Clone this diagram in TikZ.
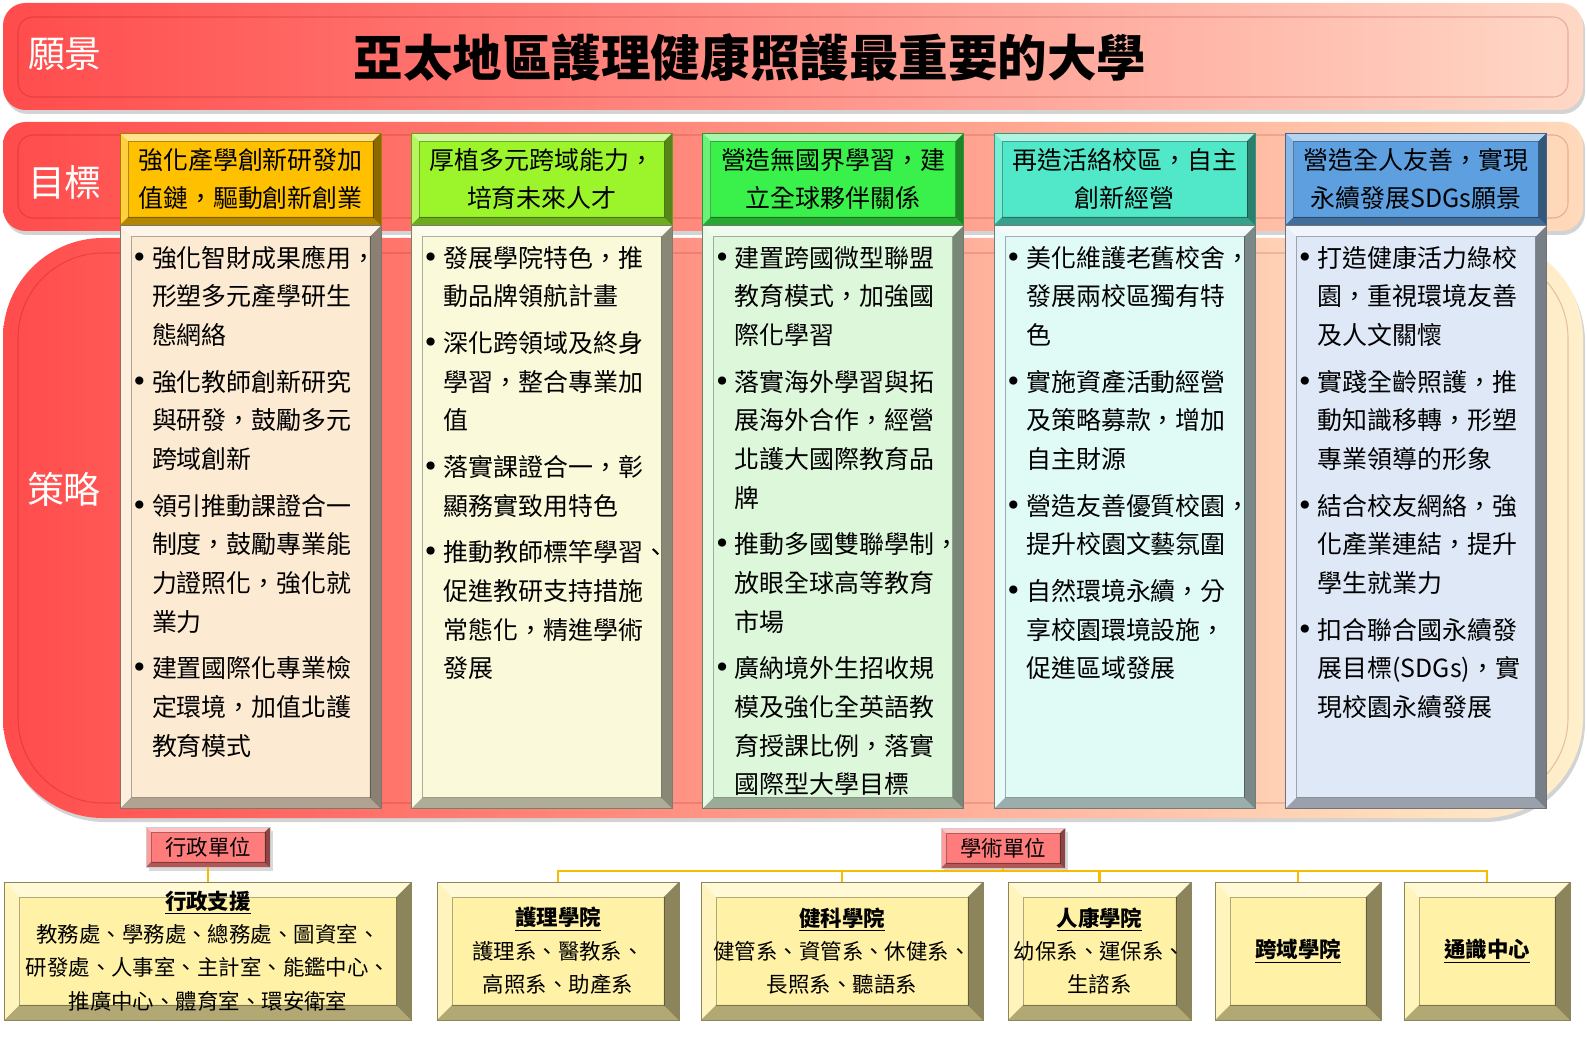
\documentclass[tikz,border=0pt]{standalone}
\usepackage{fontspec}
\setmainfont{Noto Sans CJK TC}
\newfontfamily\symfont{DejaVu Sans}
\usetikzlibrary{positioning,shadows}

\definecolor{barL}{HTML}{FF4C4C}
\definecolor{visR}{HTML}{FFD8C6}
\definecolor{goaR}{HTML}{FFDABB}
\definecolor{strR}{HTML}{FFF0CC}
\definecolor{goalA}{HTML}{FFC000}
\definecolor{goalB}{HTML}{9BF52A}
\definecolor{goalC}{HTML}{3AF04A}
\definecolor{goalD}{HTML}{50E8C8}
\definecolor{goalE}{HTML}{5E9FDF}
\definecolor{stratA}{HTML}{FDEAD2}
\definecolor{stratB}{HTML}{FAF9DA}
\definecolor{stratC}{HTML}{DDF7DB}
\definecolor{stratD}{HTML}{E0FAF6}
\definecolor{stratE}{HTML}{DEE8F7}
\definecolor{unit}{HTML}{FFF2A6}
\definecolor{lab}{HTML}{FF7C7C}
\definecolor{link}{HTML}{F7BB00}

\newcommand{\bigbul}{{\symfont\fontsize{16pt}{22pt}\selectfont •}}

\tikzset{Bevel/.style = {path picture={
  \path (path picture bounding box.north west) coordinate (bnw)
        (path picture bounding box.north east) coordinate (bne)
        (path picture bounding box.south west) coordinate (bsw)
        (path picture bounding box.south east) coordinate (bse);
  \fill[white,opacity=.55] (bnw) -- (bne) -- ([shift={(-#1,-#1)}]bne) -- ([shift={(#1,-#1)}]bnw) -- cycle;
  \fill[white,opacity=.25] (bnw) -- (bsw) -- ([shift={(#1,#1)}]bsw) -- ([shift={(#1,-#1)}]bnw) -- cycle;
  \fill[black,opacity=.45] (bne) -- (bse) -- ([shift={(-#1,#1)}]bse) -- ([shift={(-#1,-#1)}]bne) -- cycle;
  \fill[black,opacity=.3] (bsw) -- (bse) -- ([shift={(-#1,#1)}]bse) -- ([shift={(#1,#1)}]bsw) -- cycle;
  \draw[black,opacity=.3,line width=.5pt] ([shift={(#1,-#1)}]bnw) rectangle ([shift={(-#1,#1)}]bse);
}}}

\begin{document}
\begin{tikzpicture}[x=0.02cm,y=-0.02cm]
  \useasboundingbox (0,0) rectangle (1587,1040);
  \tikzset{BarStyle/.style = {left color=barL, drop shadow={opacity=.35, shadow xshift=.04cm, shadow yshift=-.08cm}}}
  \tikzset{RimStyle/.style = {draw=red!50!black, opacity=.2, line width=.6pt}}
  \tikzset{HeadStyle/.style = {text=white, inner sep=0pt, font=\fontsize{21pt}{24pt}\selectfont}}
  \tikzset{GoalStyle/.style = {draw=#1!65!black, fill=#1, Bevel=.16cm, minimum width=5.22cm, minimum height=1.84cm,
                               inner sep=0pt, align=center, font=\fontsize{14.2pt}{22pt}\selectfont}}
  \tikzset{StratStyle/.style = {draw=#1!50!black, fill=#1, Bevel=.22cm, minimum width=5.22cm, minimum height=11.66cm, inner sep=0pt}}
  \tikzset{TextStyle/.style = {anchor=north west, inner sep=0pt, font=\fontsize{14.2pt}{22pt}\selectfont}}
  \tikzset{UnitStyle/.style = {draw=unit!55!black, fill=unit, Bevel=.3cm, minimum height=2.76cm, inner sep=0pt,
                               align=center, font=\fontsize{12.2pt}{19pt}\selectfont}}
  \tikzset{LabelStyle/.style = {draw=white!80!black, fill=lab, Bevel=.1cm, minimum width=2.48cm, minimum height=.8cm,
                                inner sep=0pt, font=\fontsize{12.2pt}{14pt}\selectfont,
                                drop shadow={opacity=.3, shadow xshift=.06cm, shadow yshift=-.08cm}}}
  \tikzset{LinkStyle/.style = {draw=link, line width=1.2pt}}

  % bars
  \shade[BarStyle, right color=visR, rounded corners=.45cm] (3,3) rectangle (1583,110);
  \draw[RimStyle, rounded corners=.3cm] (18,17) rectangle (1568,97);
  \shade[BarStyle, right color=goaR, rounded corners=.45cm] (3,122) rectangle (1583,231);
  \draw[RimStyle, rounded corners=.3cm] (18,135) rectangle (1568,218);
  \shade[BarStyle, right color=strR, rounded corners=2cm] (3,238) rectangle (1583,818);
  \draw[RimStyle, rounded corners=1.7cm] (18,253) rectangle (1568,803);

  \node(vis)[HeadStyle] at (65,54) {願景};
  \node(aim)[HeadStyle] at (65,182) {目標};
  \node(way)[HeadStyle] at (64,489) {策略};
  \node(title)[inner sep=0pt, font=\bfseries\fontsize{28.2pt}{32pt}\selectfont] at (750,58) {亞太地區護理健康照護最重要的大學};

  % goals
  \node(g1)[GoalStyle=goalA] at (250.5,179) {強化產學創新研發加\\值鏈，驅動創新創業};
  \node(g2)[GoalStyle=goalB, right=0.595cm of g1] {厚植多元跨域能力，\\培育未來人才};
  \node(g3)[GoalStyle=goalC, right=0.595cm of g2] {營造無國界學習，建\\立全球夥伴關係};
  \node(g4)[GoalStyle=goalD, right=0.595cm of g3] {再造活絡校區，自主\\創新經營};
  \node(g5)[GoalStyle=goalE, right=0.595cm of g4] {營造全人友善，實現\\永續發展SDGs願景};

  % strategies
  \node(s1)[StratStyle=stratA, below=0pt of g1] {};
  \node(s2)[StratStyle=stratB, below=0pt of g2] {};
  \node(s3)[StratStyle=stratC, below=0pt of g3] {};
  \node(s4)[StratStyle=stratD, below=0pt of g4] {};
  \node(s5)[StratStyle=stratE, below=0pt of g5] {};

  \node(t1)[TextStyle] at ([shift={(0.22cm,-0.29cm)}]s1.north west) {\begin{tabular}{@{}p{0.42cm}@{}l@{}}
    \bigbul & 強化智財成果應用，\\ & 形塑多元產學研生\\ & 態網絡\\[0.16cm]
    \bigbul & 強化教師創新研究\\ & 與研發，鼓勵多元\\ & 跨域創新\\[0.16cm]
    \bigbul & 領引推動課證合一\\ & 制度，鼓勵專業能\\ & 力證照化，強化就\\ & 業力\\[0.16cm]
    \bigbul & 建置國際化專業檢\\ & 定環境，加值北護\\ & 教育模式
  \end{tabular}};
  \node(t2)[TextStyle] at ([shift={(0.22cm,-0.29cm)}]s2.north west) {\begin{tabular}{@{}p{0.42cm}@{}l@{}}
    \bigbul & 發展學院特色，推\\ & 動品牌領航計畫\\[0.16cm]
    \bigbul & 深化跨領域及終身\\ & 學習，整合專業加\\ & 值\\[0.16cm]
    \bigbul & 落實課證合一，彰\\ & 顯務實致用特色\\[0.16cm]
    \bigbul & 推動教師標竿學習、\\ & 促進教研支持措施\\ & 常態化，精進學術\\ & 發展
  \end{tabular}};
  \node(t3)[TextStyle] at ([shift={(0.22cm,-0.29cm)}]s3.north west) {\begin{tabular}{@{}p{0.42cm}@{}l@{}}
    \bigbul & 建置跨國微型聯盟\\ & 教育模式，加強國\\ & 際化學習\\[0.16cm]
    \bigbul & 落實海外學習與拓\\ & 展海外合作，經營\\ & 北護大國際教育品\\ & 牌\\[0.16cm]
    \bigbul & 推動多國雙聯學制，\\ & 放眼全球高等教育\\ & 市場\\[0.16cm]
    \bigbul & 廣納境外生招收規\\ & 模及強化全英語教\\ & 育授課比例，落實\\ & 國際型大學目標
  \end{tabular}};
  \node(t4)[TextStyle] at ([shift={(0.22cm,-0.29cm)}]s4.north west) {\begin{tabular}{@{}p{0.42cm}@{}l@{}}
    \bigbul & 美化維護老舊校舍，\\ & 發展兩校區獨有特\\ & 色\\[0.16cm]
    \bigbul & 實施資產活動經營\\ & 及策略募款，增加\\ & 自主財源\\[0.16cm]
    \bigbul & 營造友善優質校園，\\ & 提升校園文藝氛圍\\[0.16cm]
    \bigbul & 自然環境永續，分\\ & 享校園環境設施，\\ & 促進區域發展
  \end{tabular}};
  \node(t5)[TextStyle] at ([shift={(0.22cm,-0.29cm)}]s5.north west) {\begin{tabular}{@{}p{0.42cm}@{}l@{}}
    \bigbul & 打造健康活力綠校\\ & 園，重視環境友善\\ & 及人文關懷\\[0.16cm]
    \bigbul & 實踐全齡照護，推\\ & 動知識移轉，形塑\\ & 專業領導的形象\\[0.16cm]
    \bigbul & 結合校友網絡，強\\ & 化產業連結，提升\\ & 學生就業力\\[0.16cm]
    \bigbul & 扣合聯合國永續發\\ & 展目標(SDGs)，實\\ & 現校園永續發展
  \end{tabular}};

  % units
  \node(admlab)[LabelStyle] at (208,847) {行政單位};
  \node(acalab)[LabelStyle] at (1003,848) {學術單位};

  \node(adm)[UnitStyle, minimum width=8.14cm] at (208,951) {\underline{\textbf{行政支援}}\\教務處、學務處、總務處、圖資室、\\研發處、人事室、主計室、能鑑中心、\\推廣中心、體育室、環安衛室};
  \node(nur)[UnitStyle, minimum width=4.84cm] at (558,951) {\underline{\textbf{護理學院}}\\護理系、醫教系、\\高照系、助產系};
  \node(hs)[UnitStyle, minimum width=5.64cm] at (842,951) {\underline{\textbf{健科學院}}\\健管系、資管系、休健系、\\長照系、聽語系};
  \node(hc)[UnitStyle, minimum width=3.66cm] at (1099.5,951) {\underline{\textbf{人康學院}}\\幼保系、運保系、\\生諮系};
  \node(cd)[UnitStyle, minimum width=3.32cm] at (1298,951) {\underline{\textbf{跨域學院}}};
  \node(ge)[UnitStyle, minimum width=3.32cm] at (1487,951) {\underline{\textbf{通識中心}}};

  \coordinate (bus) at (1003,871);
  \draw[LinkStyle] (admlab) -- (adm);
  \draw[LinkStyle] (acalab) -- (bus);
  \draw[LinkStyle] (bus) -| (nur);
  \draw[LinkStyle] (bus) -| (hs);
  \draw[LinkStyle] (bus) -| (hc);
  \draw[LinkStyle] (bus) -| (cd);
  \draw[LinkStyle] (bus) -| (ge);
\end{tikzpicture}
\end{document}
